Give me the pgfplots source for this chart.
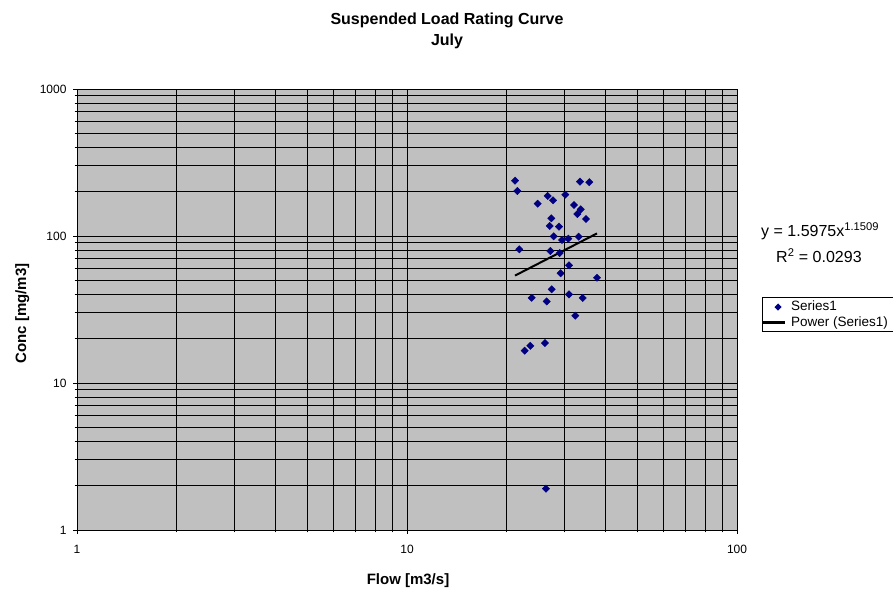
\documentclass[border=0pt]{standalone}
\usepackage{fontspec}
\setmainfont{Liberation Sans}
\usepackage{pgfplots}
\usepackage{pgfplotstable}
\pgfplotsset{compat=1.18}
\definecolor{plotbg}{HTML}{C0C0C0}
\definecolor{seriesblue}{HTML}{000080}

% July samples: flow [m3/s] and suspended concentration [mg/m3]
\pgfplotstableread{
flow conc
21.25 237.8
21.59 202.4
33.44 234.1
35.68 232.3
26.69 187.2
27.70 175.0
30.18 191.0
24.89 165.8
32.07 162.5
33.61 151.9
32.82 141.1
34.86 130.5
27.37 132.0
27.07 117.0
28.88 115.7
27.83 99.5
29.49 93.9
30.82 95.9
33.14 98.9
21.89 81.2
27.19 79.1
29.02 76.6
30.97 63.2
29.22 55.8
37.65 52.0
27.45 43.4
23.87 38.0
30.97 40.1
34.08 37.9
26.50 35.9
32.36 28.7
26.19 18.7
23.64 17.9
22.73 16.6
26.37 1.91
}\julydata

% power trend y = 1.5975 x^1.1509 over the observed flow range
\pgfplotstableread{
flow conc
21.25 53.8
37.65 104.1
}\powerfit

\begin{document}
\begin{tikzpicture}[x=1pt,y=1pt]
\path[use as bounding box] (0,0) rectangle (893,589);
\begin{axis}[
  at={(77pt,59pt)}, anchor=south west,
  scale only axis, width=660pt, height=441pt,
  xmode=log, ymode=log,
  xmin=1, xmax=100, ymin=1, ymax=1000,
  axis background/.style={fill=plotbg},
  axis line style={black, line width=0.8pt},
  grid=both,
  major grid style={black, line width=0.8pt},
  minor grid style={black, line width=0.8pt},
  xtick={1,10,100}, xticklabels={1,10,100},
  ytick={1,10,100,1000}, yticklabels={1,10,100,1000},
  minor xtick={2,3,4,5,6,7,8,9,20,30,40,50,60,70,80,90},
  minor ytick={2,3,4,5,6,7,8,9,20,30,40,50,60,70,80,90,200,300,400,500,600,700,800,900},
  tick pos=left, tick align=outside,
  major tick length=4pt, minor tick length=2.5pt,
  tick style={black, line width=0.8pt},
  ticklabel style={font=\fontsize{12}{14}\selectfont},
  xticklabel style={yshift=-8pt},
  yticklabel style={xshift=-3pt},
  clip=false,
]
\addplot[only marks, mark=square*, mark size=2.6pt,
  mark options={rotate=45, fill=seriesblue, draw=seriesblue}]
  table[x=flow, y=conc] {\julydata};
\addplot[black, line width=2pt, no marks] table[x=flow, y=conc] {\powerfit};
\end{axis}

% titles
\node[font=\bfseries\fontsize{16}{18}\selectfont, anchor=base] at (447,564) {Suspended Load Rating Curve};
\node[font=\bfseries\fontsize{16}{18}\selectfont, anchor=base] at (447,543) {July};
\node[font=\bfseries\fontsize{15}{17}\selectfont, anchor=base] at (408,5) {Flow [m3/s]};
\node[font=\bfseries\fontsize{15}{17}\selectfont, anchor=base, rotate=90] at (26,275.5) {Conc [mg/m3]};

% trendline equation
\node[font=\fontsize{16}{18}\selectfont, anchor=base west, inner sep=0pt] at (761,352) {y = 1.5975x\textsuperscript{1.1509}};
\node[font=\fontsize{16}{18}\selectfont, anchor=base west, inner sep=0pt] at (776,326) {R\textsuperscript{2} = 0.0293};

% legend
\draw[black, line width=0.8pt, fill=white] (762,292) rectangle (905,258);
\path[fill=seriesblue] (778,285.5) -- ++(3.6,-3.6) -- ++(-3.6,-3.6) -- ++(-3.6,3.6) -- cycle;
\node[font=\fontsize{13.5}{15}\selectfont, anchor=base west, inner sep=0pt] at (791,278) {Series1};
\draw[black, line width=2.5pt] (762,266.5) -- (785,266.5);
\node[font=\fontsize{13.5}{15}\selectfont, anchor=base west, inner sep=0pt] at (791,262.5) {Power (Series1)};
\end{tikzpicture}
\end{document}
